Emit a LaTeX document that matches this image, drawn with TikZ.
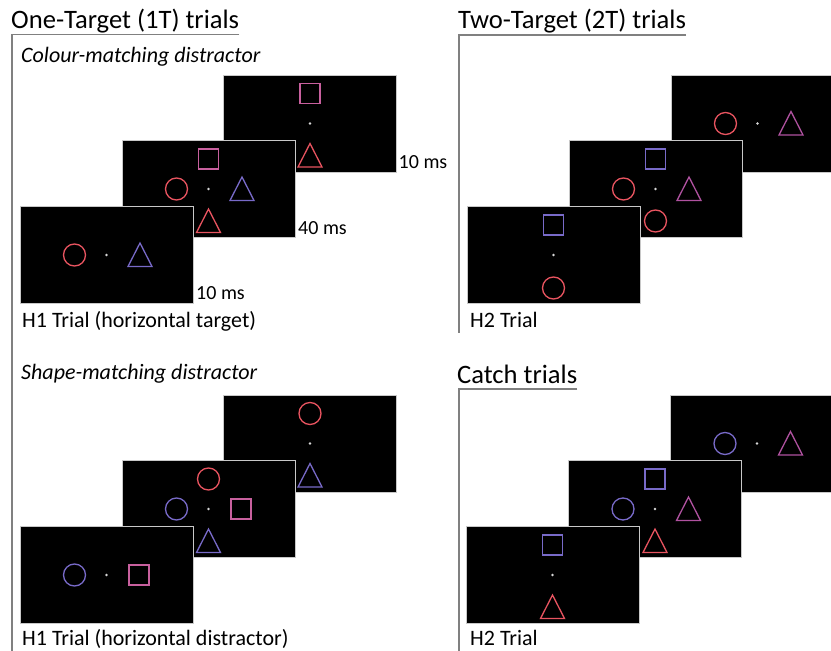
\documentclass[tikz,border=0pt]{standalone}
\usepackage{fontspec}
\setmainfont{Carlito}

\definecolor{sred}{RGB}{232,84,96}
\definecolor{sblue}{RGB}{120,106,200}
\definecolor{spink}{RGB}{200,96,158}
\definecolor{smag}{RGB}{176,82,160}
\definecolor{scrline}{RGB}{200,200,200}
\definecolor{framegray}{RGB}{128,128,128}
\definecolor{fixdot}{RGB}{215,215,215}

% place a stimulus pic relative to a screen centre
\newcommand\place[4]{\path (#1.center) ++(#2) pic{#3=#4};}
% central fixation point of a screen
\newcommand\fixpt[1]{\fill[fixdot] (#1.center) circle[radius=1.4];}

\begin{document}
\begin{tikzpicture}[x=1pt,y=-1pt,
  screen/.style={draw=scrline, fill=black, line width=1pt, minimum width=173pt,
    minimum height=97pt, inner sep=0pt, outer sep=0pt},
  stim/.style={line width=1.3pt},
  heading/.style={anchor=base west, inner sep=0pt, font=\fontsize{26.6}{31}\selectfont},
  subhead/.style={anchor=base west, inner sep=0pt, font=\fontsize{22}{26}\selectfont\itshape},
  trialtext/.style={anchor=base west, inner sep=0pt, font=\fontsize{22}{26}\selectfont},
  timetext/.style={anchor=base west, inner sep=0pt, font=\fontsize{20}{24}\selectfont},
  panel/.style={draw=framegray, line width=1.3pt},
  ring/.pic={\draw[stim,#1] (0,0) circle[radius=11];},
  box/.pic={\draw[stim,#1] (-10,-10) rectangle (10,10);},
  tri/.pic={\draw[stim,#1] (0,-12) -- (12,11.5) -- (-12,11.5) -- cycle;},
]
\useasboundingbox (0,0) rectangle (831,651);
\clip (0,0) rectangle (831,651);

% ---------- headings and panel frames ----------
\node[heading] (t1) at (11,28) {One-Target (1T) trials};
\node[heading] (t2) at (458,28) {Two-Target (2T) trials};
\node[heading] (t3) at (457,383) {Catch trials};
\coordinate (u1) at (12,34.5);
\coordinate (u2) at (459,35);
\coordinate (u3) at (459,389);
\draw[panel] (t1.east |- u1) -- (u1) -- (12,651);
\draw[panel] (t2.east |- u2) -- (u2) -- (459,333);
\draw[panel] (t3.east |- u3) -- (u3) -- (459,651);

\node[subhead] (s1) at (21,62) {Colour-matching distractor};
\node[subhead] (s2) at (21,379) {Shape-matching distractor};

% ---------- 1T, colour-matching distractor ----------
\node[screen] (a3) at (310,123.5) {};
\place{a3}{0,-30}{box}{spink}
\fixpt{a3}
\place{a3}{0,32}{tri}{sred}
\node[screen] (a2) at (208.5,189) {};
\place{a2}{0,-30}{box}{spink}
\place{a2}{-32,0}{ring}{sred}
\fixpt{a2}
\place{a2}{33.5,0}{tri}{sblue}
\place{a2}{0,32}{tri}{sred}
\node[screen] (a1) at (106.5,255) {};
\place{a1}{-32,0}{ring}{sred}
\fixpt{a1}
\place{a1}{33.5,0}{tri}{sblue}
\path (a3.south east) ++(2,-4) node[timetext] (ma3) {10 ms};
\path (a2.south east) ++(3,-3) node[timetext] (ma2) {40 ms};
\path (a1.south east) ++(3,-4) node[timetext] (ma1) {10 ms};
\node[trialtext] (la) at (22,327) {H1 Trial (horizontal target)};

% ---------- 1T, shape-matching distractor ----------
\node[screen] (b3) at (310,443.5) {};
\place{b3}{0,-30}{ring}{sred}
\fixpt{b3}
\place{b3}{0,32}{tri}{sblue}
\node[screen] (b2) at (208.5,509) {};
\place{b2}{0,-30}{ring}{sred}
\place{b2}{-32,0}{ring}{sblue}
\fixpt{b2}
\place{b2}{32.5,0}{box}{spink}
\place{b2}{0,32}{tri}{sblue}
\node[screen] (b1) at (106.5,575) {};
\place{b1}{-32,0}{ring}{sblue}
\fixpt{b1}
\place{b1}{32.5,0}{box}{spink}
\node[trialtext] (lb) at (22,645) {H1 Trial (horizontal distractor)};

% ---------- 2T trials ----------
\node[screen] (c3) at (757.5,123.5) {};
\place{c3}{-32,0}{ring}{sred}
\fixpt{c3}
\place{c3}{33.5,0}{tri}{smag}
\node[screen] (c2) at (655.5,189) {};
\place{c2}{0,-30}{box}{sblue}
\place{c2}{-32,0}{ring}{sred}
\fixpt{c2}
\place{c2}{33.5,0}{tri}{smag}
\place{c2}{0,32}{ring}{sred}
\node[screen] (c1) at (553.5,255) {};
\place{c1}{0,-30}{box}{sblue}
\fixpt{c1}
\place{c1}{0,33}{ring}{sred}
\node[trialtext] (lc) at (470,327) {H2 Trial};

% ---------- catch trials ----------
\node[screen] (d3) at (757,443.5) {};
\place{d3}{-32,0}{ring}{sblue}
\fixpt{d3}
\place{d3}{33.5,0}{tri}{smag}
\node[screen] (d2) at (655,509) {};
\place{d2}{0,-30}{box}{sblue}
\place{d2}{-32,0}{ring}{sblue}
\fixpt{d2}
\place{d2}{33.5,0}{tri}{smag}
\place{d2}{0,32}{tri}{sred}
\node[screen] (d1) at (552.5,575) {};
\place{d1}{0,-30}{box}{sblue}
\fixpt{d1}
\place{d1}{0,32}{tri}{sred}
\node[trialtext] (ld) at (470,645) {H2 Trial};
\end{tikzpicture}
\end{document}
